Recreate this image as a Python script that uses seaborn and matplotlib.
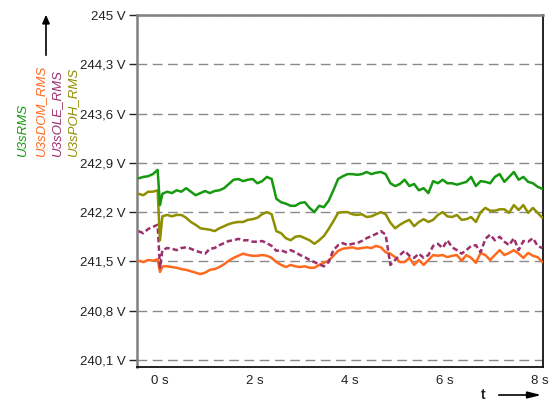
import numpy as np
import pandas as pd
import matplotlib
matplotlib.use("Agg")
import matplotlib.pyplot as plt
import seaborn as sns

# Sampling instants (s): five before the switching event, the event itself, then 0.1 s steps
t_pre = [-0.45, -0.35, -0.25, -0.15, -0.05]
t_event = [0.0]
t_post = list(np.round(0.05 + 0.1 * np.arange(81), 2))
t = np.array(t_pre + t_event + t_post)

# RMS voltages (V)
u3s_rms = [
    242.68, 242.70, 242.71, 242.74, 242.80,
    242.30,
    242.46, 242.49, 242.47, 242.51, 242.49, 242.54, 242.49, 242.44, 242.47, 242.50,
    242.47, 242.50, 242.51, 242.54, 242.60, 242.66, 242.67, 242.64, 242.66, 242.67,
    242.61, 242.64, 242.70, 242.67, 242.39, 242.34, 242.32, 242.29, 242.29, 242.33,
    242.34, 242.26, 242.20, 242.29, 242.27, 242.36, 242.51, 242.67, 242.71, 242.74,
    242.74, 242.73, 242.74, 242.77, 242.74, 242.76, 242.77, 242.74, 242.61, 242.57,
    242.60, 242.66, 242.57, 242.60, 242.51, 242.54, 242.47, 242.64, 242.61, 242.66,
    242.61, 242.61, 242.59, 242.61, 242.63, 242.70, 242.57, 242.64, 242.63, 242.61,
    242.70, 242.74, 242.63, 242.70, 242.77, 242.66, 242.70, 242.63, 242.61, 242.56,
    242.53,
]
u3s_dom_rms = [
    241.51, 241.49, 241.52, 241.51, 241.53,
    241.35,
    241.43, 241.43, 241.42, 241.41, 241.39, 241.38, 241.36, 241.34, 241.32, 241.34,
    241.38, 241.39, 241.42, 241.46, 241.51, 241.55, 241.58, 241.61, 241.59, 241.58,
    241.58, 241.59, 241.58, 241.55, 241.49, 241.45, 241.42, 241.45, 241.43, 241.42,
    241.43, 241.41, 241.41, 241.45, 241.48, 241.51, 241.58, 241.65, 241.68, 241.69,
    241.70, 241.68, 241.69, 241.70, 241.69, 241.72, 241.70, 241.63, 241.61, 241.56,
    241.49, 241.49, 241.55, 241.45, 241.52, 241.45, 241.52, 241.59, 241.58, 241.59,
    241.56, 241.58, 241.59, 241.51, 241.59, 241.55, 241.48, 241.62, 241.59, 241.52,
    241.59, 241.66, 241.59, 241.62, 241.66, 241.61, 241.55, 241.62, 241.58, 241.56,
    241.49,
]
u3s_ole_rms = [
    241.93, 241.90, 241.96, 241.99, 242.02,
    241.41,
    241.66, 241.69, 241.68, 241.66, 241.69, 241.70, 241.68, 241.65, 241.63, 241.61,
    241.68, 241.69, 241.73, 241.76, 241.79, 241.80, 241.82, 241.80, 241.80, 241.78,
    241.78, 241.79, 241.76, 241.72, 241.65, 241.66, 241.63, 241.66, 241.63, 241.59,
    241.56, 241.52, 241.49, 241.46, 241.43, 241.49, 241.66, 241.73, 241.76, 241.73,
    241.75, 241.76, 241.79, 241.83, 241.86, 241.89, 241.93, 241.88, 241.45, 241.52,
    241.59, 241.65, 241.58, 241.55, 241.61, 241.55, 241.59, 241.72, 241.75, 241.69,
    241.80, 241.70, 241.66, 241.61, 241.66, 241.72, 241.73, 241.63, 241.82, 241.88,
    241.80, 241.85, 241.78, 241.73, 241.83, 241.66, 241.79, 241.78, 241.83, 241.72,
    241.69,
]
u3s_poh_rms = [
    242.46, 242.44, 242.49, 242.49, 242.51,
    241.80,
    242.14, 242.16, 242.14, 242.16, 242.16, 242.12, 242.06, 242.02, 241.97, 241.96,
    241.95, 241.93, 241.97, 242.00, 242.03, 242.05, 242.06, 242.06, 242.09, 242.10,
    242.12, 242.17, 242.20, 242.17, 241.93, 241.90, 241.83, 241.80, 241.85, 241.86,
    241.83, 241.80, 241.75, 241.80, 241.86, 241.96, 242.07, 242.19, 242.20, 242.20,
    242.17, 242.16, 242.17, 242.13, 242.14, 242.17, 242.20, 242.17, 242.05, 241.97,
    242.02, 242.06, 242.09, 242.00, 242.06, 242.10, 242.06, 242.09, 242.16, 242.20,
    242.14, 242.13, 242.16, 242.09, 242.10, 242.13, 242.06, 242.20, 242.26, 242.22,
    242.22, 242.24, 242.24, 242.19, 242.30, 242.23, 242.30, 242.19, 242.26, 242.19,
    242.12,
]

series_names = ["U3sRMS", "U3sDOM_RMS", "U3sOLE_RMS", "U3sPOH_RMS"]
series_values = [u3s_rms, u3s_dom_rms, u3s_ole_rms, u3s_poh_rms]
series_colors = ["#16980f", "#ff6a1f", "#9c2f6c", "#8f8f00"]

y_ticks = [240.1, 240.8, 241.5, 242.2, 242.9, 243.6, 244.3, 245.0]
y_tick_labels = ["240,1 V", "240,8 V", "241,5 V", "242,2 V", "242,9 V", "243,6 V", "244,3 V", "245 V"]
x_ticks = [0, 2, 4, 6, 8]
x_tick_labels = ["0 s", "2 s", "4 s", "6 s", "8 s"]

sns.set_theme(style="white")
plt.rcParams["font.family"] = ["Liberation Sans", "DejaVu Sans"]

fig = plt.figure(figsize=(5.5, 4.01), dpi=100)
ax = fig.add_axes([137 / 550, 34 / 401, 406 / 550, 352 / 401])

# Dashed horizontal reference lines at every voltage tick
for yv in y_ticks:
    ax.axhline(yv, color="#8a8a8a", lw=1.0, dashes=(7, 4), zorder=1)

draw_order = [1, 2, 3, 0]
for i in draw_order:
    kw = dict(color=series_colors[i], linewidth=1.8, ax=ax, zorder=3)
    if series_names[i] == "U3sOLE_RMS":
        kw["dashes"] = (2.2, 1.2)
    sns.lineplot(x=t, y=np.array(series_values[i]), **kw)

ax.set_xlim(-0.484, 8.063)
ax.set_ylim(240.0, 245.0)
ax.set_xticks(x_ticks)
ax.set_xticklabels(x_tick_labels, fontsize=9.5, color="#222222")
ax.set_yticks(y_ticks)
ax.set_yticklabels(y_tick_labels, fontsize=9.5, color="#222222")
ax.set_xlabel("")
ax.set_ylabel("")
ax.tick_params(axis="x", direction="in", length=8, width=1.0, color="#111111", pad=6)
ax.tick_params(axis="y", direction="out", length=6, width=1.0, color="#222222", pad=2, left=True)

for side in ["left", "top"]:
    ax.spines[side].set_color("#808080")
    ax.spines[side].set_linewidth(1.8)
for side in ["right", "bottom"]:
    ax.spines[side].set_color("#111111")
    ax.spines[side].set_linewidth(1.3)
ax.spines["left"].set_visible(True)
ax.spines["top"].set_visible(True)

# Rotated series names on the left, one per colour
label_x = [23, 41, 57, 73]
for name, col, xp in zip(series_names, series_colors, label_x):
    fig.text(xp / 550, 1 - 157 / 401, name, rotation=90, color=col, fontsize=9.5,
             style="italic", ha="center", va="bottom")

# Axis direction arrows
fig.add_artist(matplotlib.patches.FancyArrowPatch(
    (46 / 550, 1 - 58 / 401), (46 / 550, 1 - 12 / 401), transform=fig.transFigure,
    arrowstyle="-|>,head_length=5,head_width=2.2", color="black", lw=1.2))
fig.add_artist(matplotlib.patches.FancyArrowPatch(
    (496 / 550, 1 - 395 / 401), (544 / 550, 1 - 395 / 401), transform=fig.transFigure,
    arrowstyle="-|>,head_length=8,head_width=2.0", color="black", lw=1.2))
fig.text(483 / 550, 1 - 399 / 401, "t", fontsize=10, fontweight="bold", ha="center", va="baseline")

fig.savefig("out.png", dpi=100)
